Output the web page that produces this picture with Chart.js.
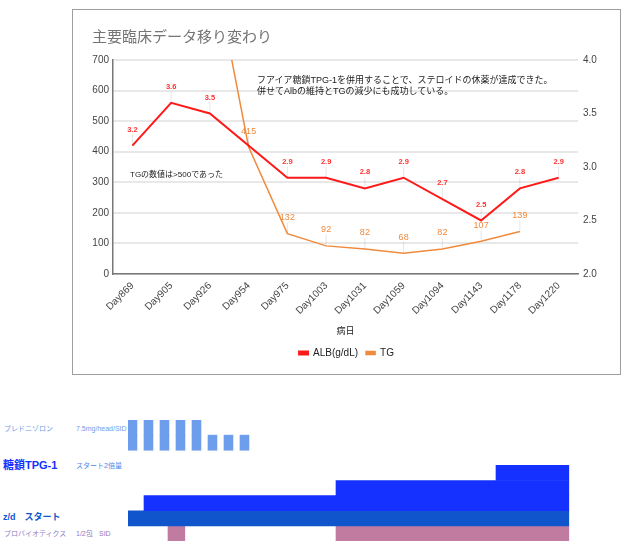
<!DOCTYPE html>
<html>
<head>
<meta charset="utf-8">
<script src="https://cdn.jsdelivr.net/npm/chart.js@4.4.1/dist/chart.umd.min.js"></script>
<style>
body { margin:0; background:#fff; font-family:"Liberation Sans","Noto Sans CJK JP",sans-serif; }
.t { position:absolute; white-space:nowrap; line-height:1; transform:translateY(-50%); }
#box { position:absolute; left:72px; top:9px; width:547px; height:364px; border:1px solid #9e9e9e; }
#ganttBox { position:absolute; left:128px; top:420px; width:504px; height:121px; }
</style>
</head>
<body>
<div id="box"><canvas id="labgraph"></canvas></div>
<div class="t" style="left:92px;top:36px;font-size:15px;color:#757575">主要臨床データ移り変わり</div>
<div class="t" style="left:257px;top:80px;font-size:9px;color:#222">フアイア糖鎖TPG-1を併用することで、ステロイドの休薬が達成できた。</div>
<div class="t" style="left:257px;top:91px;font-size:9px;color:#222">併せてAlbの維持とTGの減少にも成功している。</div>
<div class="t" style="left:130px;top:175px;font-size:8px;color:#222">TGの数値は&gt;500であった</div>

<div id="ganttBox"><canvas id="gantt"></canvas></div>
<div class="t" style="left:4px;top:428px;font-size:7px;color:#6d9eeb">プレドニゾロン</div>
<div class="t" style="left:76px;top:428px;font-size:7px;color:#6d9eeb">7.5mg/head/SID</div>
<div class="t" style="left:3px;top:465px;font-size:11px;font-weight:bold;color:#1431ff">糖鎖TPG-1</div>
<div class="t" style="left:76px;top:465px;font-size:7px;color:#4a86e8">スタート2倍量</div>
<div class="t" style="left:3px;top:517px;font-size:9px;font-weight:bold;color:#1155cc">z/d　スタート</div>
<div class="t" style="left:4px;top:533px;font-size:7px;color:#8e7cc3">プロバイオティクス</div>
<div class="t" style="left:76px;top:533px;font-size:7px;color:#8e7cc3">1/2包</div>
<div class="t" style="left:99px;top:533px;font-size:7px;color:#8e7cc3">SID</div>

<script>
// 検査データ
var days = ['Day869','Day905','Day926','Day954','Day975','Day1003','Day1031','Day1059','Day1094','Day1143','Day1178','Day1220'];
var albValues = [3.2, 3.6, 3.5, null, 2.9, 2.9, 2.8, 2.9, 2.7, 2.5, 2.8, 2.9];
var tgValues = [null, null, 1070, 415, 132, 92, 82, 68, 82, 107, 139, null];

// 投薬スケジュール (週)
var ganttRows = ['pred2', 'pred1', 'gap', 'tpg3', 'tpg2', 'tpg1', 'zd', 'pro'];
var predPeriods = [[0,0.56],[1,1.56],[2,2.56],[3,3.56],[4,4.56],[5,5.56],[6,6.56],[7,7.56]];
var predDose = [2, 2, 2, 2, 2, 1, 1, 1];
var tpgPeriods = [[1,27.55],[13,27.55],[23,27.55]];
var tpgRows = ['tpg1', 'tpg2', 'tpg3'];
var zdPeriod = [0, 27.55];
var proPeriods = [[2.5,3.55],[13,27.55]];

Chart.defaults.font.family = '"Liberation Sans","Noto Sans CJK JP",sans-serif';

var valueLabels = {
    id: 'valueLabels',
    afterDatasetsDraw(chart){
        var ctx = chart.ctx;
        var area = chart.chartArea;
        chart.data.datasets.forEach(function(ds, i){
            var meta = chart.getDatasetMeta(i);
            meta.data.forEach(function(pt, j){
                var v = ds.data[j];
                if(v == null || pt.y < area.top || pt.y > area.bottom) return;
                ctx.save();
                ctx.strokeStyle = 'rgba(0,0,0,0.10)';
                ctx.lineWidth = 1;
                ctx.beginPath();
                ctx.moveTo(pt.x, pt.y - 1);
                ctx.lineTo(pt.x, pt.y - 11);
                ctx.stroke();
                ctx.fillStyle = ds.labelColor;
                ctx.font = ds.labelFont;
                ctx.textAlign = 'center';
                ctx.textBaseline = 'middle';
                ctx.fillText(v.toFixed(ds.labelDigits), pt.x, pt.y - 16);
                ctx.restore();
            });
        });
    }
};

var labChart = new Chart(document.getElementById('labgraph'), {
    type: 'line',
    data: {
        labels: days,
        datasets: [{
            label: 'ALB(g/dL)',
            data: albValues,
            yAxisID: 'y1',
            borderColor: '#ff1a1a',
            backgroundColor: '#ff1a1a',
            borderWidth: 2,
            pointRadius: 0,
            spanGaps: true,
            labelColor: '#ff3030',
            labelFont: 'bold 7.5px "Liberation Sans", sans-serif',
            labelDigits: 1
        }, {
            label: 'TG',
            data: tgValues,
            yAxisID: 'y',
            borderColor: '#f08a3c',
            backgroundColor: '#f08a3c',
            borderWidth: 1.5,
            pointRadius: 0,
            labelColor: '#f08a3c',
            labelFont: '9px "Liberation Sans", sans-serif',
            labelDigits: 0
        }]
    },
    options: {
        responsive: true,
        maintainAspectRatio: false,
        animation: false,
        layout: { padding: { top: 50, bottom: 6, left: 0, right: 0 } },
        plugins: {
            legend: {
                position: 'bottom',
                labels: { boxWidth: 9, boxHeight: 3, padding: 8, color: '#222', font: { size: 10 } }
            },
            tooltip: { enabled: false }
        },
        scales: {
            x: {
                offset: true,
                grid: { display: false, drawTicks: false },
                border: { color: '#777', width: 1.5 },
                ticks: { minRotation: 45, maxRotation: 45, padding: 6, color: '#444', font: { size: 10 } },
                title: { display: true, text: '病日', color: '#222', font: { size: 9 }, padding: { top: 0, bottom: 3 } },
                afterFit: function(s){ s.height = 66; }
            },
            y: {
                position: 'left',
                min: 0,
                max: 700,
                ticks: { stepSize: 100, padding: 4, color: '#444', font: { size: 10 } },
                grid: { color: '#e8e8e8', lineWidth: 2, drawTicks: false },
                border: { color: '#777', width: 1.5 },
                afterFit: function(s){ s.width = 40; }
            },
            y1: {
                position: 'right',
                min: 2,
                max: 4,
                ticks: { stepSize: 0.5, padding: 5, color: '#444', font: { size: 10 }, callback: function(v){ return v.toFixed(1); } },
                grid: { display: false, drawTicks: false },
                border: { display: false },
                afterFit: function(s){ s.width = 42; }
            }
        }
    },
    plugins: [valueLabels]
});

// スケジュール
var predData = [];
predPeriods.forEach(function(p, i){
    if(predDose[i] == 2) predData.push({ x: p, y: 'pred2' });
    predData.push({ x: p, y: 'pred1' });
});

var ganttChart = new Chart(document.getElementById('gantt'), {
    type: 'bar',
    data: {
        labels: ganttRows,
        datasets: [{
            data: predData,
            backgroundColor: '#6d9eeb'
        }, {
            data: tpgPeriods.map(function(p, i){ return { x: p, y: tpgRows[i] }; }),
            backgroundColor: '#1431ff'
        }, {
            data: [{ x: zdPeriod, y: 'zd' }],
            backgroundColor: '#1155cc'
        }, {
            data: proPeriods.map(function(p){ return { x: p, y: 'pro' }; }),
            backgroundColor: '#c27ba0'
        }]
    },
    options: {
        indexAxis: 'y',
        responsive: true,
        maintainAspectRatio: false,
        animation: false,
        layout: { padding: 0 },
        datasets: { bar: { grouped: false, barPercentage: 1, categoryPercentage: 1, borderWidth: 0 } },
        plugins: { legend: { display: false }, tooltip: { enabled: false } },
        scales: {
            x: { type: 'linear', min: 0, max: 31.5, display: false },
            y: { type: 'category', display: false }
        }
    }
});
</script>
</body>
</html>
